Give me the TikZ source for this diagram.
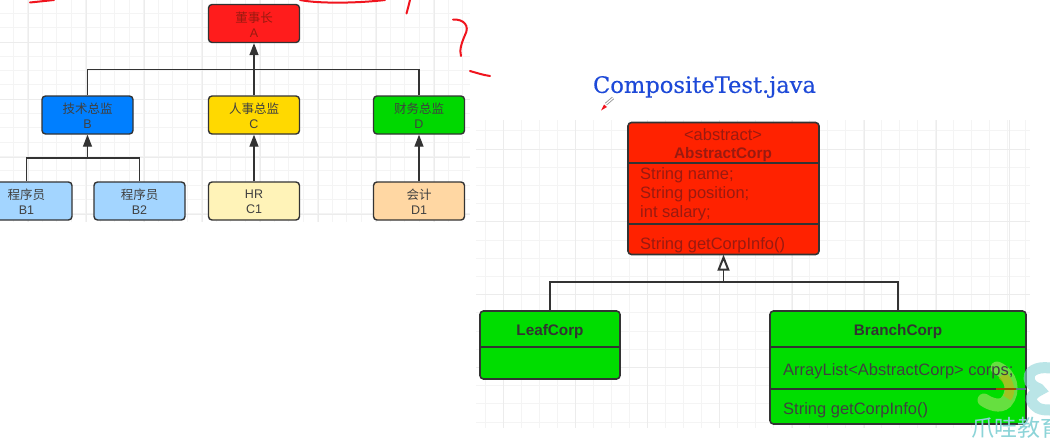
\documentclass[tikz,border=0pt]{standalone}
\usepackage{fontspec}
\setmainfont{Liberation Sans}
\newfontfamily\cjk{Noto Sans CJK SC}
\newfontfamily\titlefont[FakeBold=0.4]{DejaVu Serif}
\usetikzlibrary{arrows.meta,calc}
\definecolor{gridc}{HTML}{F4F4F4}
\definecolor{gridm}{HTML}{ECECEC}
\definecolor{linec}{HTML}{333333}
\definecolor{cA}{HTML}{FF1C1C}
\definecolor{cB}{HTML}{007FFF}
\definecolor{cC}{HTML}{FFD900}
\definecolor{cD}{HTML}{00D800}
\definecolor{cBB}{HTML}{A3D5FF}
\definecolor{cCC}{HTML}{FFF3B8}
\definecolor{cDD}{HTML}{FFD7A3}
\definecolor{cAbs}{HTML}{FF2200}
\definecolor{cUml}{HTML}{00DD00}
\definecolor{txtred}{HTML}{9A1A10}
\definecolor{titleblue}{HTML}{1D49D8}
\definecolor{scrib}{HTML}{F0141E}
\definecolor{teal}{HTML}{8CD4D8}
\definecolor{wmg}{HTML}{80E050}
\definecolor{wmo}{HTML}{C8B010}
\tikzset{
  x=1pt,y=-1pt,
  orgbox/.style={draw=linec,line width=1.4pt,rounded corners=3.5pt,minimum width=91pt,minimum height=38pt,inner sep=0pt,align=center,font=\fontsize{12.5}{15}\selectfont,text=#1},
  orgbox/.default=black!75,
  orglabel/.style={inner sep=0pt,align=center,font=\fontsize{12.5}{15}\selectfont,text=#1},
  orglabel/.default=black!75,
  link/.style={draw=linec,line width=1.4pt},
  solidarrow/.style={link,-{Triangle[length=12pt,width=9pt,fill=linec]}},
  hollowarrow/.style={link,-{Triangle[open,length=16pt,width=12pt,fill=white,line width=2pt]}},
  umlbox/.style={draw=linec,line width=1.6pt,rounded corners=3.5pt},
  umldiv/.style={draw=linec,line width=1.5pt},
  umltext/.style={font=\fontsize{16.5}{18}\selectfont,inner sep=0pt},
  umlhead/.style={font=\fontsize{15.3}{18}\bfseries,inner sep=0pt},
  scribble/.style={draw=scrib,line width=2pt,line cap=round},
}
\begin{document}
\begin{tikzpicture}
\useasboundingbox (0,0) rectangle (1050,439);
\fill[white] (0,0) rectangle (1050,439);
% left grid
\begin{scope}
\clip (0,0) rectangle (470,222);
\foreach \i in {-1,...,32} \draw[gridc,line width=.7pt] ({-1.5+\i*14.5},0) -- ({-1.5+\i*14.5},222);
\foreach \i in {0,...,15} \draw[gridc,line width=.7pt] (0,{-1+\i*14.3}) -- (470,{-1+\i*14.3});
\foreach \i in {0,...,8} \draw[gridm,line width=1pt] ({28+\i*58},0) -- ({28+\i*58},222);
\foreach \i in {0,...,3} \draw[gridm,line width=1pt] (0,{42+\i*57.5}) -- (470,{42+\i*57.5});
\end{scope}
% right grid
\begin{scope}
\clip (476,120) rectangle (1030,428);
\foreach \i in {-2,...,32} \draw[gridc,line width=.7pt] ({503+\i*18},120) -- ({503+\i*18},428);
\foreach \i in {-2,...,17} \draw[gridc,line width=.7pt] (476,{149+\i*18.2}) -- (1030,{149+\i*18.2});
\foreach \i in {0,...,7} \draw[gridm,line width=1pt] ({503+\i*72.3},120) -- ({503+\i*72.3},428);
\foreach \i in {0,...,4} \draw[gridm,line width=1pt] (476,{149+\i*72.8}) -- (1030,{149+\i*72.8});
\end{scope}
% organisation chart
\node[orgbox=txtred,fill=cA,text height=28pt] (a) at (254,23.5) {};
\node[orgbox,fill=cB] (b) at (87.5,115) {};
\node[orgbox,fill=cC] (c) at (254,115) {};
\node[orgbox,fill=cD] (d) at (419,115) {};
\node[orgbox,fill=cBB] (b1) at (26.5,201) {};
\node[orgbox,fill=cBB] (b2) at (139.5,201) {};
\node[orgbox,fill=cCC] (c1) at (254,201) {};
\node[orgbox,fill=cDD] (d1) at (419,201) {};
\node[orglabel=txtred] (la) at (254,24.5) {{\cjk 董事长}\\A};
\node[orglabel] (lb) at (87.5,116) {{\cjk 技术总监}\\B};
\node[orglabel] (lc) at (254,116) {{\cjk 人事总监}\\C};
\node[orglabel] (ld) at (419,116) {{\cjk 财务总监}\\D};
\node[orglabel] (lb1) at (26.5,202) {{\cjk 程序员}\\B1};
\node[orglabel] (lb2) at (139.5,202) {{\cjk 程序员}\\B2};
\node[orglabel] (lc1) at (254,202) {HR\\C1};
\node[orglabel] (ld1) at (419,202) {{\cjk 会计}\\D1};
\coordinate (ajoin) at (254,69.5);
\coordinate (bjoin) at (87.5,158);
\draw[solidarrow] (c.north) -- (a.south);
\draw[link] (b.north) |- (ajoin);
\draw[link] (d.north) |- (ajoin);
\draw[solidarrow] (bjoin) -- (b.south);
\draw[link] (b1.north) |- (bjoin);
\draw[link] (b2.north) |- (bjoin);
\draw[solidarrow] (c1.north) -- (c.south);
\draw[solidarrow] (d1.north) -- (d.south);
% title
\node[font=\titlefont\fontsize{22.6}{24}\selectfont,text=titleblue,inner sep=0pt] (title) at (704.5,87) {CompositeTest.java};
% pencil cursor
\draw[gray!80,line width=3pt] (606,104) -- (613,98);
\draw[white,line width=1.2pt] (606,104) -- (613,98);
\fill[scrib] (601,110.5) -- (604,104.5) -- (607,107) -- cycle;
% UML abstract
\draw[umlbox,fill=cAbs] (628,122.5) rectangle (819,254.5);
\node[minimum width=191pt,minimum height=132pt,inner sep=0pt] (abs) at (723.5,188.5) {};
\draw[umldiv] (628,163) -- (819,163);
\draw[umldiv] (628,224) -- (819,224);
\node[umltext,text=txtred] (t1) at (723,135) {<abstract>};
\node[umlhead,text=txtred] (t2) at (723,154.5) {AbstractCorp};
\node[umltext,text=txtred,anchor=west] (t3) at (640,175) {String name;};
\node[umltext,text=txtred,anchor=west] (t4) at (640,194) {String position;};
\node[umltext,text=txtred,anchor=west] (t5) at (640,213) {int salary;};
\node[umltext,text=txtred,anchor=west] (t6) at (640,245) {String getCorpInfo()};
% UML leaf
\draw[umlbox,fill=cUml] (480,311) rectangle (620,379);
\node[minimum width=140pt,minimum height=68pt,inner sep=0pt] (leaf) at (550,345) {};
\draw[umldiv] (480,347) -- (620,347);
\node[umlhead,text=black!80] (t7) at (550,331.5) {LeafCorp};
% UML branch
\draw[umlbox,fill=cUml] (770,311) rectangle (1026,424);
\node[minimum width=256pt,minimum height=113pt,inner sep=0pt] (branch) at (898,367.5) {};
\draw[umldiv] (770,347) -- (1026,347);
\node[umlhead,text=black!80] (t8) at (898,331.5) {BranchCorp};
\coordinate (umljoin) at (723.5,282);
\draw[hollowarrow] (umljoin) -- (abs.south);
\draw[link] (leaf.north) |- (umljoin);
\draw[link] (branch.north) |- (umljoin);
% scribbles
\draw[scribble] (30,2.5) -- (54,0);
\draw[scribble] (300,0) .. controls (320,4) and (360,3) .. (385,0);
\draw[scribble] (406.5,13.5) .. controls (408,8) and (409,4) .. (410,0);
\draw[scribble] (453,19.5) .. controls (464,19) and (470,26) .. (465,35) .. controls (462,42) and (459,50) .. (461,56);
\draw[scribble] (470,71) .. controls (477,73) and (483,75) .. (490,76);
% watermark
\draw[wmg,opacity=.8,line width=13pt,line cap=round] (997,368) .. controls (1012,374) and (1015,392) .. (1006,402) .. controls (1000,408) and (990,404) .. (984,400);
\draw[wmo,opacity=.6,line width=9pt,line cap=butt] (1002,375) .. controls (1010,382) and (1012,392) .. (1007,398);
\draw[teal,opacity=.6,line width=11pt,line cap=round] (1050,368) .. controls (1036,366) and (1026,372) .. (1030,382) .. controls (1033,388) and (1040,388) .. (1040,390) .. controls (1032,394) and (1026,400) .. (1038,408) .. controls (1042,410) and (1046,410) .. (1050,410);
% divider and texts that show through the watermark
\draw[umldiv] (770,389) -- (996,389);
\draw[umldiv,draw=orange!60!black] (996,389) -- (1016,389);
\draw[umldiv,draw=teal!60!black] (1016,389) -- (1026,389);
\node[umltext,anchor=west,text=black!75] (t9) at (783,371) {ArrayList<AbstractCorp> corps;};
\node[umltext,anchor=west,text=black!75] (t10) at (783,410) {String getCorpInfo()};
\begin{scope}
\clip (0,0) rectangle (1050,439);
\node[font=\cjk\fontsize{23}{24}\selectfont,text=teal,inner sep=0pt,anchor=west] (mark) at (971,428) {爪哇教育};
\end{scope}
\end{tikzpicture}
\end{document}
